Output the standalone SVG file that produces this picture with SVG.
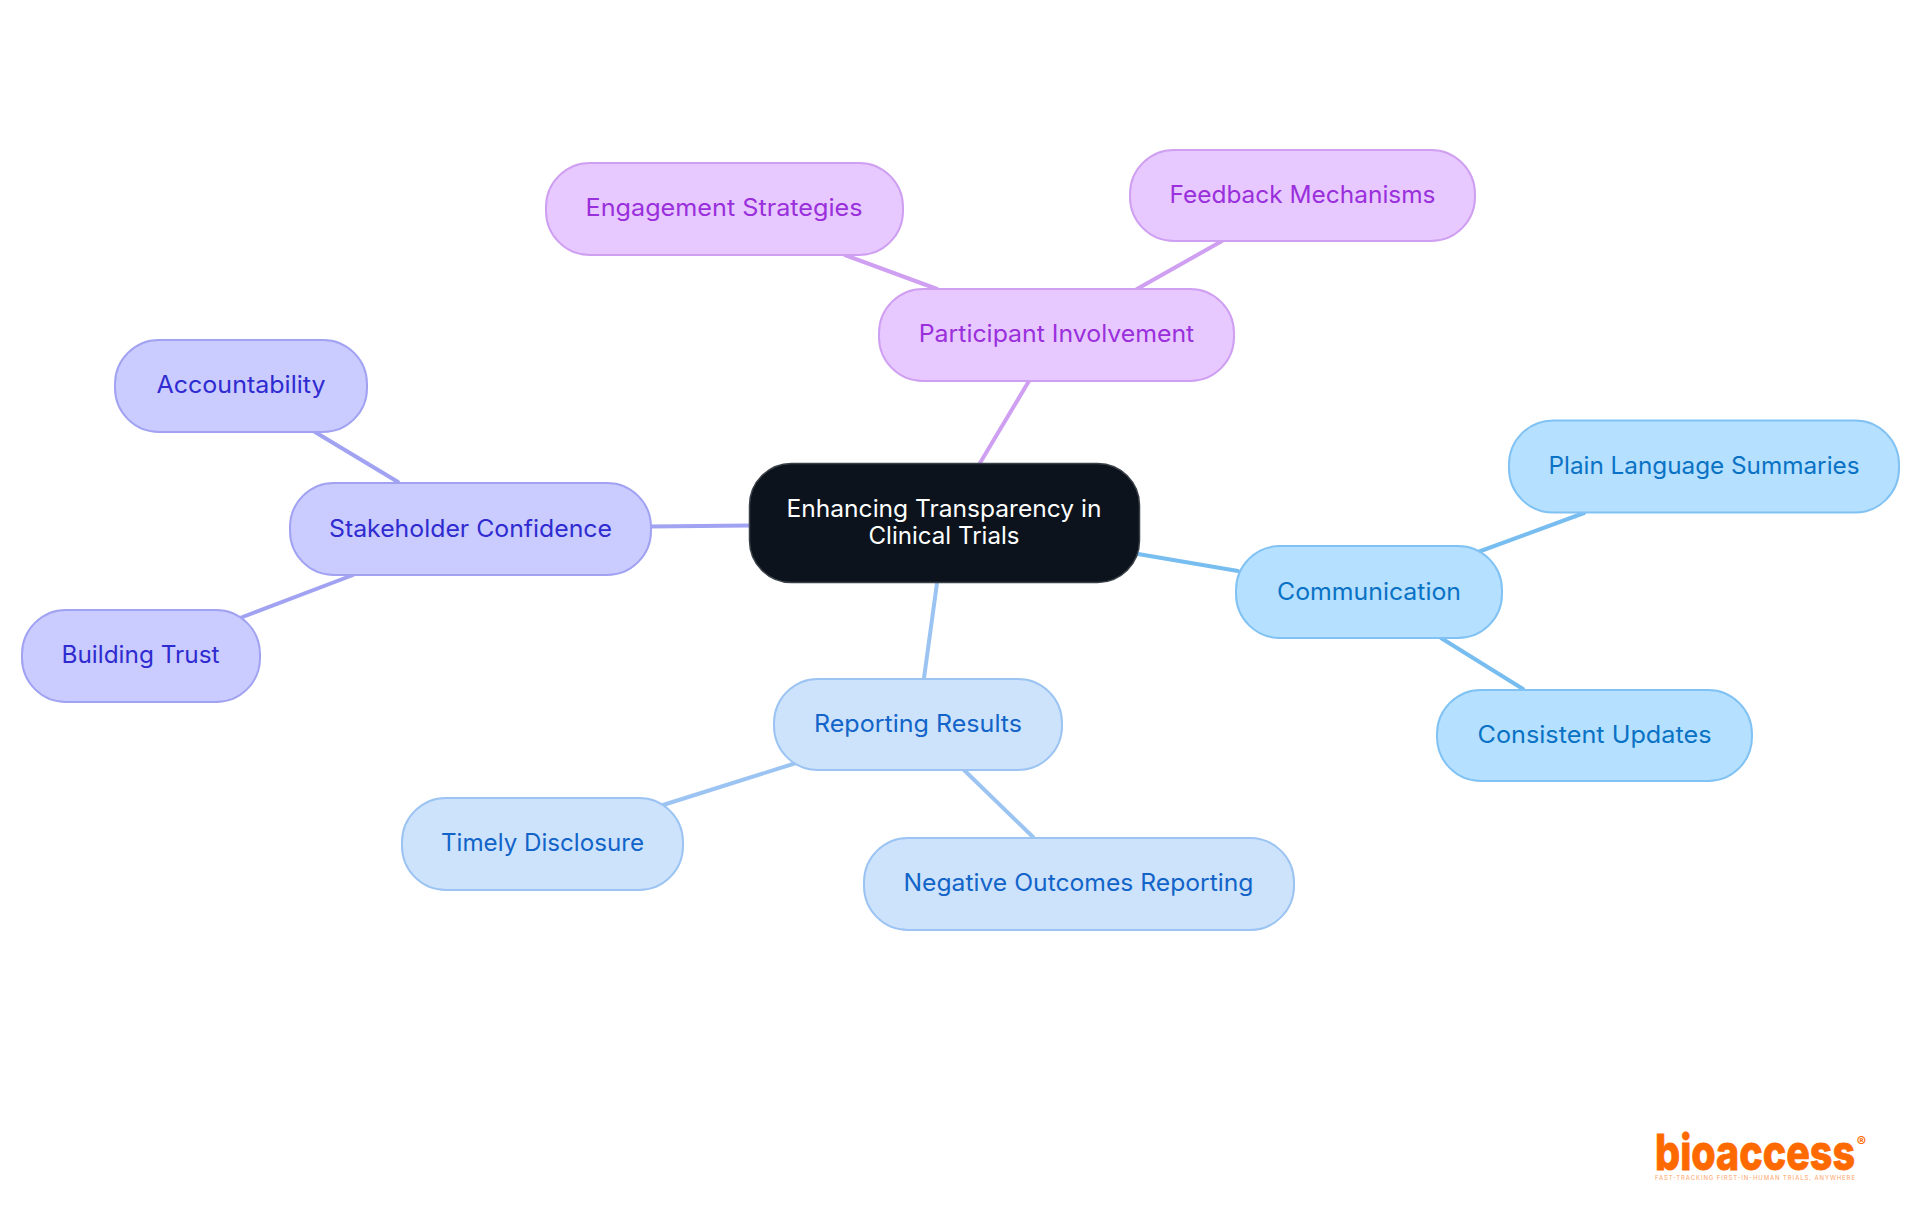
<svg xmlns="http://www.w3.org/2000/svg" width="1920" height="1215" viewBox="0 0 1920 1215">
<style>
text{font-family:"Inter","Noto Sans",sans-serif;font-size:24px;text-anchor:middle;font-weight:400}
.n{stroke-width:2;rx:44px;ry:44px}
.c{fill:none;stroke-width:4;stroke-linecap:round}
.p rect{fill:#e7c9ff;stroke:#cf9ff2}.p text{fill:#9a2fdc}
.s rect{fill:#cacbff;stroke:#a1a3f2}.s text{fill:#2f2bd0}
.b rect{fill:#b5e0ff;stroke:#80c2f3}.b text{fill:#0a72c4}
.r rect{fill:#cde3fc;stroke:#9cc4f3}.r text{fill:#1264c8}
#root text{fill:#fff}
</style>
<rect width="1920" height="1215" fill="#fff"/>
<g id="connectors" class="c">
<path d="M980 463L1029 381" stroke="#cf9ff2"/>
<path d="M937 289L845 255" stroke="#cf9ff2"/>
<path d="M1137 289L1222 241" stroke="#cf9ff2"/>
<path d="M749 525.500L651 526.500" stroke="#a1a3f2"/>
<path d="M398 482L315 432" stroke="#a1a3f2"/>
<path d="M353 575L240 618" stroke="#a1a3f2"/>
<path d="M1138 554L1238 571" stroke="#78bdf0"/>
<path d="M1478 552L1584 513" stroke="#78bdf0"/>
<path d="M1441 638L1523 689" stroke="#78bdf0"/>
<path d="M937 583L924 678" stroke="#9cc4f3"/>
<path d="M796 763L663 805" stroke="#9cc4f3"/>
<path d="M964 770L1033 837" stroke="#9cc4f3"/>
</g>
<g id="root"><rect x="749.500" y="463.500" width="390" height="119" rx="42" fill="#0c131c" stroke="#3a4048" stroke-width="1.500"/>
<text x="944" y="517" textLength="315" lengthAdjust="spacingAndGlyphs">Enhancing Transparency in</text><text x="944" y="544" textLength="151" lengthAdjust="spacingAndGlyphs">Clinical Trials</text></g>
<g id="participant" class="p"><rect class="n" x="879" y="289" width="355" height="92"/><text x="1056.500" y="342" textLength="275.500" lengthAdjust="spacingAndGlyphs">Participant Involvement</text></g>
<g id="engagement" class="p"><rect class="n" x="546" y="163" width="357" height="92"/><text x="724" y="216" textLength="277" lengthAdjust="spacingAndGlyphs">Engagement Strategies</text></g>
<g id="feedback" class="p"><rect class="n" x="1130" y="150" width="345" height="91"/><text x="1302.500" y="203" textLength="266" lengthAdjust="spacingAndGlyphs">Feedback Mechanisms</text></g>
<g id="stakeholder" class="s"><rect class="n" x="290" y="483" width="361" height="92"/><text x="470.500" y="537" textLength="283" lengthAdjust="spacingAndGlyphs">Stakeholder Confidence</text></g>
<g id="accountability" class="s"><rect class="n" x="115" y="340" width="252" height="92"/><text x="241" y="393" textLength="169" lengthAdjust="spacingAndGlyphs">Accountability</text></g>
<g id="trust" class="s"><rect class="n" x="22" y="610" width="238" height="92"/><text x="140.500" y="663" textLength="158" lengthAdjust="spacingAndGlyphs">Building Trust</text></g>
<g id="communication" class="b"><rect class="n" x="1236" y="546" width="266" height="92"/><text x="1369" y="600" textLength="184" lengthAdjust="spacingAndGlyphs">Communication</text></g>
<g id="plain" class="b"><rect class="n" x="1509" y="420.500" width="390" height="92"/><text x="1704" y="474" textLength="311" lengthAdjust="spacingAndGlyphs">Plain Language Summaries</text></g>
<g id="consistent" class="b"><rect class="n" x="1437" y="690" width="315" height="91"/><text x="1594.500" y="743" textLength="234" lengthAdjust="spacingAndGlyphs">Consistent Updates</text></g>
<g id="reporting" class="r"><rect class="n" x="774" y="679" width="288" height="91"/><text x="918" y="732" textLength="208" lengthAdjust="spacingAndGlyphs">Reporting Results</text></g>
<g id="timely" class="r"><rect class="n" x="402" y="798" width="281" height="92"/><text x="542.500" y="851" textLength="203" lengthAdjust="spacingAndGlyphs">Timely Disclosure</text></g>
<g id="negative" class="r"><rect class="n" x="864" y="838" width="430" height="92"/><text x="1078.500" y="891" textLength="350" lengthAdjust="spacingAndGlyphs">Negative Outcomes Reporting</text></g>
<g id="logo"><text x="1655" y="1170" style="text-anchor:start;font-weight:800;font-size:50px" fill="#ff6a00" stroke="#ff6a00" stroke-width=".8" textLength="200" lengthAdjust="spacingAndGlyphs">bioaccess</text>
<text x="1861.500" y="1147" style="font-size:14px;font-weight:700" fill="#ff6a00">®</text>
<text x="1655" y="1180" style="text-anchor:start;font-size:6px;font-weight:400" textLength="200" fill="#ffa366">FAST-TRACKING FIRST-IN-HUMAN TRIALS, ANYWHERE</text></g>
</svg>
